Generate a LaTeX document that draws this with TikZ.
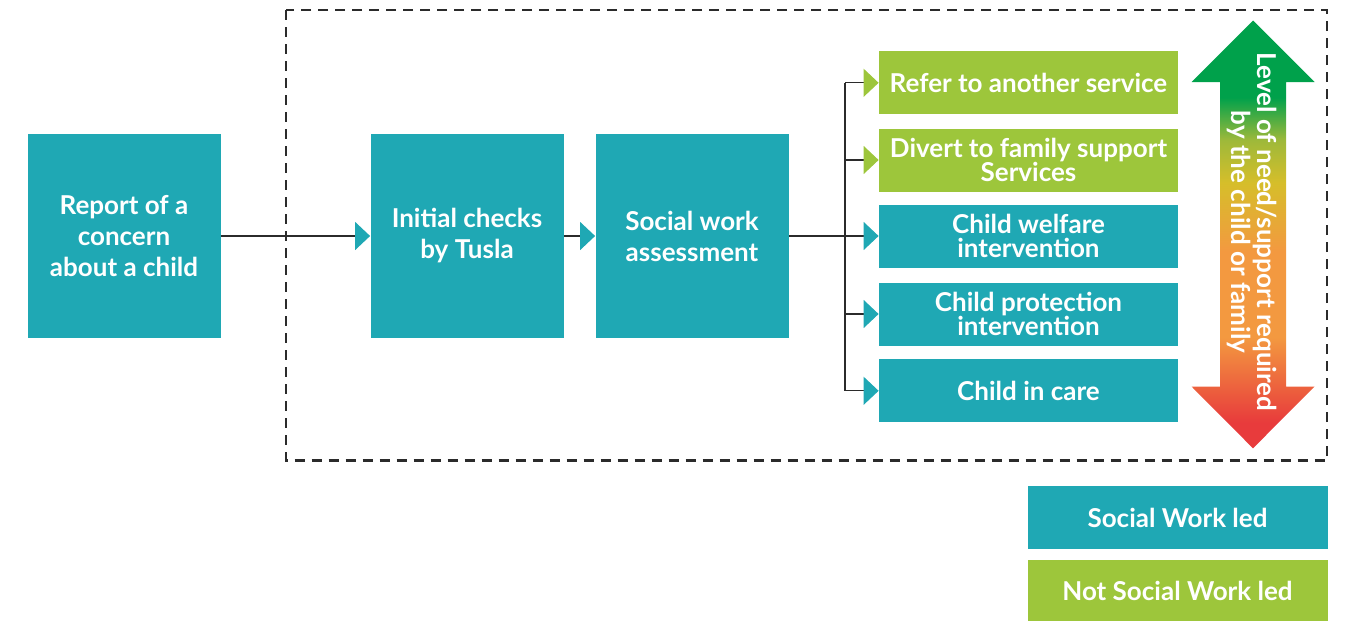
\documentclass[tikz,border=0pt]{standalone}
\usepackage{fontspec}
\setmainfont{Lato}
\usetikzlibrary{arrows.meta}
\definecolor{swteal}{HTML}{1FA8B4}
\definecolor{nswgreen}{HTML}{9DC63B}
\definecolor{lineclr}{HTML}{2B2B2B}
\definecolor{lvlgreen}{HTML}{00A14B}
\definecolor{lvlolive}{HTML}{9EB93A}
\definecolor{lvlyellow}{HTML}{D6BE2A}
\definecolor{lvlorange}{HTML}{F39940}
\definecolor{lvlred}{HTML}{E83B3C}
% level of need shading, bottom (red) to top (green)
\pgfdeclareverticalshading{needshade}{100bp}{color(0bp)=(lvlred); color(28bp)=(lvlred); color(38bp)=(lvlorange); color(48bp)=(lvlorange); color(56bp)=(lvlyellow); color(61bp)=(lvlolive); color(66bp)=(lvlgreen); color(100bp)=(lvlgreen)}
\begin{document}
\begin{tikzpicture}[x=0.5pt,y=-0.5pt]
  \tikzstyle{bigbox}=[fill=swteal,text=white,font=\fontsize{13}{15.5}\selectfont\bfseries,align=center,minimum width=96.5pt,minimum height=102pt,inner sep=0pt]
  \tikzstyle{optbox}=[fill=swteal,text=white,font=\fontsize{13}{12}\selectfont\bfseries,align=center,minimum width=149.5pt,minimum height=31.5pt,inner sep=0pt]
  \tikzstyle{other}=[optbox,fill=nswgreen]
  \tikzset{link/.style = {draw=lineclr,line width=0.6pt}}
  \tikzset{edge/.style = {link,-{Triangle[length=7.5pt,width=14pt,color=swteal]}}}
  \tikzset{edgeg/.style = {link,-{Triangle[length=7.5pt,width=14pt,color=nswgreen]}}}
  \useasboundingbox (0,0) rectangle (1345,621);
  \draw[lineclr,line width=1.3pt,dash pattern=on 5pt off 3.5pt] (286,10) rectangle (1327,460.5);
  \node[bigbox] (report) at (124,236) {Report of a\\concern\\about a child};
  \node[bigbox] (checks) at (467,236) {Initial checks\\by Tusla};
  \node[bigbox] (assess) at (692,236) {Social work\\assessment};
  \node[other] (refer) at (1028.5,82.8) {Refer to another service};
  \node[other] (divert) at (1028.5,160) {Divert to family support\\Services};
  \node[optbox] (welfare) at (1028.5,236) {Child welfare\\intervention};
  \node[optbox] (protect) at (1028.5,314) {Child protection\\intervention};
  \node[optbox] (incare) at (1028.5,390.8) {Child in care};
  \node[optbox,minimum width=150pt] (legsw) at (1177.5,517.5) {Social Work led};
  \node[other,minimum width=150pt,minimum height=30.5pt] (legnot) at (1177.5,590.5) {Not Social Work led};
  \coordinate (bus) at (845,236);
  \draw[edge] (report) -- (checks);
  \draw[edge] (checks) -- (assess);
  \draw[link] (assess) -- (bus);
  \draw[link] (bus |- refer.west) -- (bus |- incare.west);
  \draw[edgeg] (bus |- refer.west) -- (refer);
  \draw[edgeg] (bus |- divert.west) -- (divert);
  \draw[edge] (bus) -- (welfare);
  \draw[edge] (bus |- protect.west) -- (protect);
  \draw[edge] (bus |- incare.west) -- (incare);
  % level of need arrow
  \shade[shading=needshade] (1253,20.5) -- (1314.5,82) -- (1286,82) -- (1286,386.5) -- (1314.5,386.5)
    -- (1253,448.3) -- (1191.5,386.5) -- (1220,386.5) -- (1220,82) -- (1191.5,82) -- cycle;
  \node[rotate=-90,text=white,align=center,font=\fontsize{13}{11.5}\selectfont\bfseries] (needtxt) at (1252,232) {Level of need/support required\\by the child or family};
\end{tikzpicture}
\end{document}
